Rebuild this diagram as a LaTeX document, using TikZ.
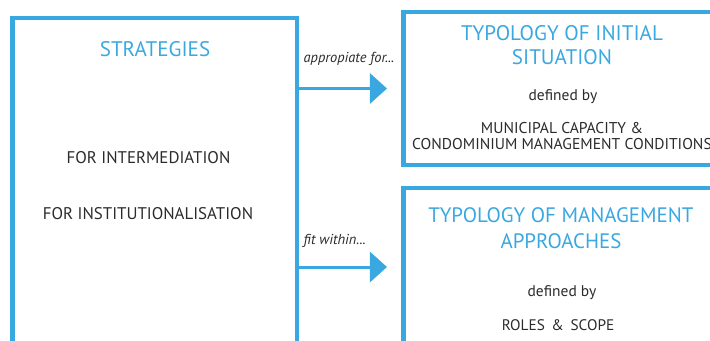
\documentclass[tikz,border=0pt]{standalone}
\usepackage{fontspec}
\setmainfont{PT Sans}
\usetikzlibrary{arrows.meta,positioning}
\definecolor{sky}{HTML}{3AA8E0}
\definecolor{ink}{HTML}{2B2B2B}
\tikzset{
  frame/.style={draw=sky,line width=2.3pt,inner sep=0pt},
  heading/.style={color=sky,font=\fontsize{12}{13.6}\selectfont,align=center},
  body/.style={color=ink,font=\fontsize{9.6}{10.5}\selectfont,align=center},
  cue/.style={color=ink,font=\fontsize{8.2}{9.6}\selectfont\itshape,anchor=west},
  linkarrow/.style={draw=sky,line width=1.7pt,-{Triangle[length=0.34cm,width=0.6cm]}}
}
\begin{document}
\begin{tikzpicture}
\useasboundingbox (0,0) rectangle (14.2,-6.8);
\clip (0,0) rectangle (14.2,-6.8);
% boxes
\node[frame,minimum width=5.69cm,minimum height=7.04cm] (strat) at (3.095,-3.88) {};
\node[frame,minimum width=6.34cm,minimum height=3.06cm] (initial) at (11.24,-1.77) {};
\node[frame,minimum width=6.34cm,minimum height=3.16cm] (mgmt) at (11.24,-5.34) {};
% left box text
\node[heading] (strathead) at (3.1,-0.98) {STRATEGIES};
\node[body] (interm) at (2.97,-3.16) {FOR INTERMEDIATION};
\node[body] (instit) at (2.96,-4.27) {FOR INSTITUTIONALISATION};
% initial situation
\node[heading] (inithead) at (11.24,-0.9) {TYPOLOGY OF INITIAL\\SITUATION};
\node[body,font=\fontsize{8.8}{10.5}\selectfont] (initdef) at (11.26,-1.94) {defined by};
\node[body,font=\fontsize{8.9}{9.1}\selectfont] (initcond) at (11.24,-2.72)
  {MUNICIPAL CAPACITY \&\\CONDOMINIUM MANAGEMENT CONDITIONS};
% management approaches
\node[heading,font=\fontsize{11.9}{14.7}\selectfont] (mgmthead) at (11.22,-4.56) {TYPOLOGY OF MANAGEMENT\\APPROACHES};
\node[body,font=\fontsize{8.8}{10.5}\selectfont] (mgmtdef) at (11.24,-5.86) {defined by};
\node[body,font=\fontsize{8.7}{10.5}\selectfont] (mgmtrole) at (11.16,-6.5) {ROLES\ \,\&\ \,SCOPE};
% connectors
\draw[linkarrow,shorten >=0.29cm] (strat.east |- initial.west) -- (initial.west);
\draw[linkarrow,shorten >=0.29cm] (strat.east |- mgmt.west) -- (mgmt.west);
\node[cue] (appr) at (5.95,-1.18) {appropiate for...};
\node[cue] (fit) at (5.95,-4.82) {fit within...};
\end{tikzpicture}
\end{document}
